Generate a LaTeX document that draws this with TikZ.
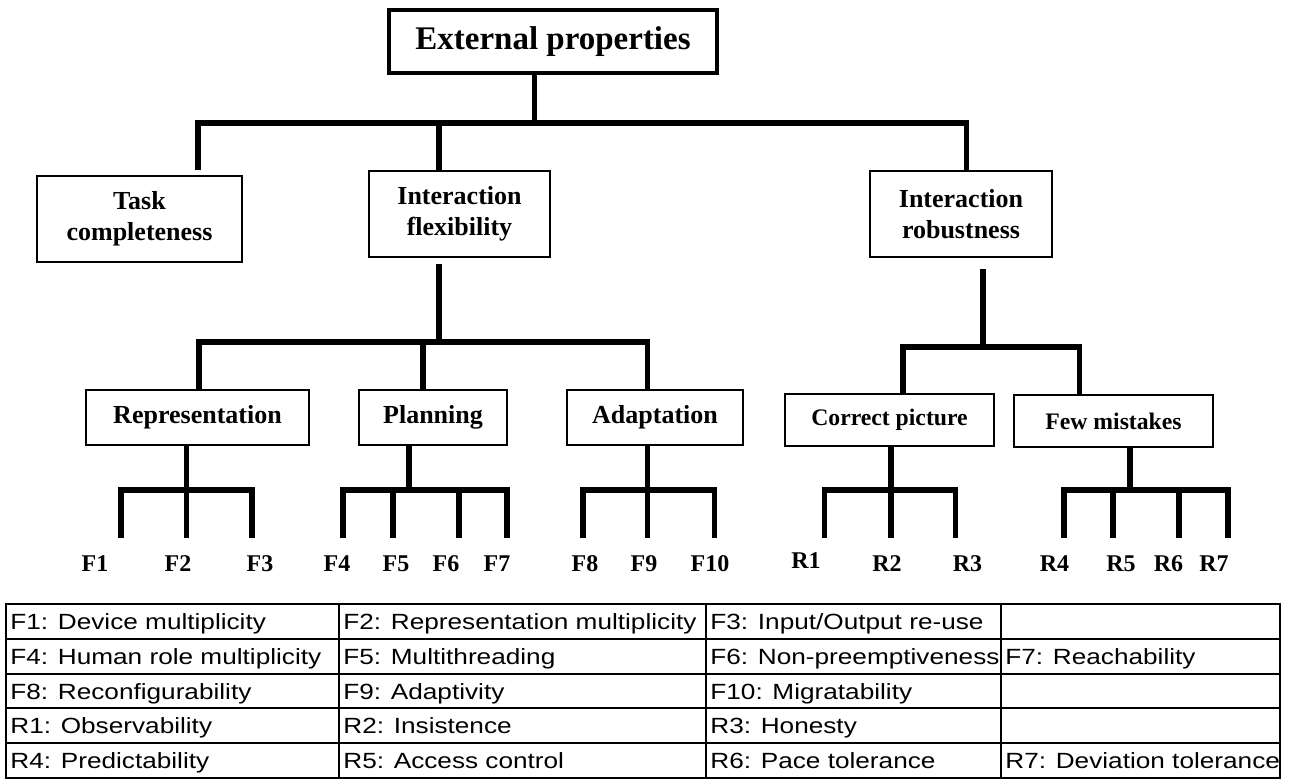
\documentclass[tikz,border=0pt]{standalone}
\usepackage{fontspec}
\setmainfont{Liberation Serif}
\newfontfamily\tabfont{Liberation Sans}[FakeStretch=1.19]
\begin{document}
\begin{tikzpicture}[x=0.5pt,y=-0.5pt,
  box/.style={draw, line width=1pt, inner sep=0pt, align=center, font=\fontsize{13}{15.5}\selectfont\bfseries},
  sbox/.style={box, font=\fontsize{11.85}{14}\selectfont\bfseries},
  conn/.style={line width=2.7pt},
  leaf/.style={inner sep=0pt, font=\fontsize{12}{14}\selectfont\bfseries},
  cell/.style={anchor=base west, inner sep=0pt, font=\tabfont\fontsize{11}{13}\selectfont},
  tabline/.style={line width=1pt}]
\useasboundingbox (0,0) rectangle (1290,780);
% boxes
\node[box, line width=1.6pt, minimum width=164pt, minimum height=31.5pt, font=\fontsize{16.5}{20}\selectfont\bfseries] (ext) at (553,41.5) {External properties};
\node[box, minimum width=102.5pt, minimum height=43pt] (tsk) at (139.5,219) {Task\\completeness};
\node[box, minimum width=90.5pt, minimum height=43pt] (ifx) at (459.5,214) {Interaction\\flexibility};
\node[box, minimum width=91pt, minimum height=43pt] (irb) at (961,214) {Interaction\\robustness};
\node[box, minimum width=111.5pt, minimum height=27.5pt] (rep) at (197.5,417.5) {Representation};
\node[box, minimum width=74pt, minimum height=27.5pt] (pln) at (433,417.5) {Planning};
\node[box, minimum width=88pt, minimum height=27.5pt] (adp) at (655,417.5) {Adaptation};
\node[sbox, minimum width=104.5pt, minimum height=26pt] (cpc) at (889.5,420) {Correct picture};
\node[sbox, minimum width=99.5pt, minimum height=26pt] (fmk) at (1113.5,421) {Few mistakes};
% level 1
\coordinate (j0) at (534.5,123);
\coordinate (jT) at (198,123);
\coordinate (jF) at (439,123);
\coordinate (jR) at (966.5,123);
\draw[conn] (ext.south -| j0) -- (j0);
\draw[conn, shorten <=2.5pt] (tsk.north -| jT) -- (jT) -- (jR) -- (irb.north -| jR);
\draw[conn] (jF) -- (ifx.north -| jF);
% level 2 flexibility
\coordinate (k0) at (439,342);
\coordinate (kR) at (199,342);
\coordinate (kP) at (423,342);
\coordinate (kA) at (647.5,342);
\draw[conn, shorten <=3pt] (ifx.south -| k0) -- (k0);
\draw[conn] (rep.north -| kR) -- (kR) -- (kA) -- (adp.north -| kA);
\draw[conn] (kP) -- (pln.north -| kP);
% level 2 robustness
\coordinate (m0) at (983,347);
\coordinate (mC) at (903,347);
\coordinate (mF) at (1079.5,347);
\draw[conn, shorten <=5.5pt] (irb.south -| m0) -- (m0);
\draw[conn] (cpc.north -| mC) -- (mC) -- (mF) -- (fmk.north -| mF);
% leaf ends
\foreach \n/\x in {e1/121,e2/186.5,e3/252,e4/343,e5/393,e6/459,e7/507,e8/583,e9/647.5,e10/714.5,
  r1/824.5,r2/891,r3/955.5,r4/1064,r5/1113,r6/1179,r7/1228}
  \coordinate (\n) at (\x,538);
\coordinate (dRep) at (186.5,490);
\coordinate (dPln) at (409,490);
\coordinate (dAdp) at (647.5,490);
\coordinate (dCpc) at (891,490);
\coordinate (dFmk) at (1130,490);
% representation
\draw[conn] (rep.south -| e2) -- (e2);
\draw[conn] (e1) -- (e1 |- dRep) -- (e3 |- dRep) -- (e3);
% planning
\draw[conn] (pln.south -| dPln) -- (dPln);
\draw[conn] (e4) -- (e4 |- dPln) -- (e7 |- dPln) -- (e7);
\draw[conn] (e5 |- dPln) -- (e5);
\draw[conn] (e6 |- dPln) -- (e6);
% adaptation
\draw[conn] (adp.south -| e9) -- (e9);
\draw[conn] (e8) -- (e8 |- dAdp) -- (e10 |- dAdp) -- (e10);
% correct picture
\draw[conn] (cpc.south -| r2) -- (r2);
\draw[conn] (r1) -- (r1 |- dCpc) -- (r3 |- dCpc) -- (r3);
% few mistakes
\draw[conn] (fmk.south -| dFmk) -- (dFmk);
\draw[conn] (r4) -- (r4 |- dFmk) -- (r7 |- dFmk) -- (r7);
\draw[conn] (r5 |- dFmk) -- (r5);
\draw[conn] (r6 |- dFmk) -- (r6);
% leaf labels
\node[leaf] (F1) at (95,564) {F1};
\node[leaf] (F2) at (178,564) {F2};
\node[leaf] (F3) at (260,564) {F3};
\node[leaf] (F4) at (337,564) {F4};
\node[leaf] (F5) at (396,564) {F5};
\node[leaf] (F6) at (446,564) {F6};
\node[leaf] (F7) at (497,564) {F7};
\node[leaf] (F8) at (585,564) {F8};
\node[leaf] (F9) at (644,564) {F9};
\node[leaf] (F10) at (710,564) {F10};
\node[leaf] (R1) at (806,561) {R1};
\node[leaf] (R2) at (887,564) {R2};
\node[leaf] (R3) at (967.5,564) {R3};
\node[leaf] (R4) at (1054.5,564) {R4};
\node[leaf] (R5) at (1121,564) {R5};
\node[leaf] (R6) at (1168.5,564) {R6};
\node[leaf] (R7) at (1214,564) {R7};
% table
\draw[line width=1.3pt] (6,604) rectangle (1280,778);
\foreach \y in {638.8,673.6,708.4,743.2} \draw[tabline] (6,\y) -- (1280,\y);
\foreach \x in {339,706,1001} \draw[tabline] (\x,604) -- (\x,778);
\node[cell] (c11) at (10,629.4) {F1: Device multiplicity};
\node[cell] (c12) at (343,629.4) {F2: Representation multiplicity};
\node[cell] (c13) at (710,629.4) {F3: Input/Output re-use};
\node[cell] (c21) at (10,664.2) {F4: Human role multiplicity};
\node[cell] (c22) at (343,664.2) {F5: Multithreading};
\node[cell] (c23) at (710,664.2) {F6: Non-preemptiveness};
\node[cell] (c24) at (1005,664.2) {F7: Reachability};
\node[cell] (c31) at (10,699) {F8: Reconfigurability};
\node[cell] (c32) at (343,699) {F9: Adaptivity};
\node[cell] (c33) at (710,699) {F10: Migratability};
\node[cell] (c41) at (10,733.8) {R1: Observability};
\node[cell] (c42) at (343,733.8) {R2: Insistence};
\node[cell] (c43) at (710,733.8) {R3: Honesty};
\node[cell] (c51) at (10,768.6) {R4: Predictability};
\node[cell] (c52) at (343,768.6) {R5: Access control};
\node[cell] (c53) at (710,768.6) {R6: Pace tolerance};
\node[cell] (c54) at (1005,768.6) {R7: Deviation tolerance};
\end{tikzpicture}
\end{document}
